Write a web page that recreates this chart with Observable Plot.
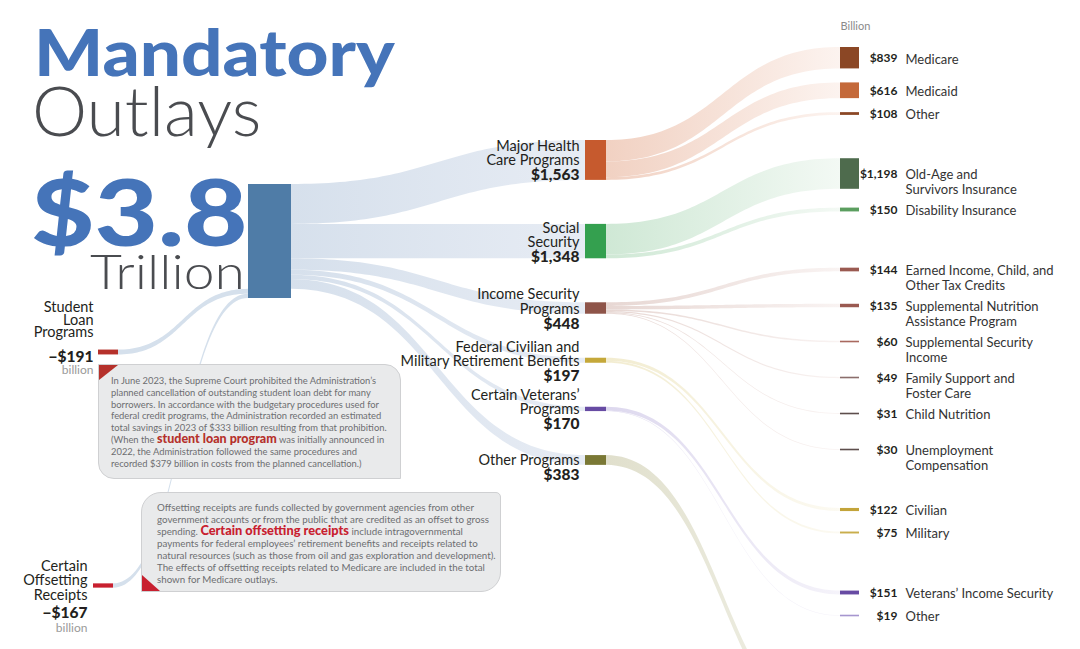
<!DOCTYPE html>
<html><head><meta charset="utf-8">
<script src="https://cdn.jsdelivr.net/npm/d3@7"></script>
<script src="https://cdn.jsdelivr.net/npm/@observablehq/plot@0.6"></script>
<style>
body{margin:0;background:#fff;font-family:Lato,"Open Sans",sans-serif;}
#wrap{position:relative;width:1080px;height:649px;overflow:hidden;background:#fff;}
#chart{position:absolute;left:0;top:0;}
.t{position:absolute;white-space:nowrap;line-height:1;font-family:Lato,sans-serif;transform-origin:0 50%;}
.note{position:absolute;box-sizing:border-box;background:#e9eaeb;border:1px solid #cfd0d2;color:#6d6e71;font-size:9.4px;line-height:11.8px;white-space:nowrap;font-family:Lato,sans-serif;}
.note b{font-weight:900;line-height:10px;}
.tri{position:absolute;}
</style></head><body>
<div id="wrap">
<div id="chart"></div>
<div class="t" style="left:34px;top:19px;font-size:65px;font-weight:900;color:#4574b9;transform:scaleX(1.12);">Mandatory</div>
<div class="t" style="left:32px;top:76px;font-size:68px;font-weight:300;color:#4a4c50;transform:scaleX(1.025);">Outlays</div>
<div class="t" style="left:31px;top:165px;font-size:92px;font-weight:900;color:#4574b9;transform:scaleX(1.19);">$3.8</div>
<div class="t" style="left:90px;top:247px;font-size:48px;font-weight:300;color:#4a4c50;transform:scaleX(1.15);">Trillion</div>
<div class="note" style="left:98px;top:364px;width:303px;height:115px;border-radius:0 16px 0 16px;padding:10px 0 0 12px;">
In June 2023, the Supreme Court prohibited the Administration’s<br>
planned cancellation of outstanding student loan debt for many<br>
borrowers. In accordance with the budgetary procedures used for<br>
federal credit programs, the Administration recorded an estimated<br>
total savings in 2023 of $333 billion resulting from that prohibition.<br>
(When the <b style="color:#b5312b;font-size:12.5px;">student loan program</b> was initially announced in<br>
2022, the Administration followed the same procedures and<br>
recorded $379 billion in costs from the planned cancellation.)
<div class="tri" style="left:0;top:0;width:19px;height:15px;background:#b5312b;clip-path:polygon(0 0,100% 0,0 100%);"></div>
</div>
<div class="note" style="left:141px;top:492px;width:360px;height:100px;border-radius:20px 5px 20px 0;padding:8px 0 0 15px;font-size:9.75px;line-height:12px;">
Offsetting receipts are funds collected by government agencies from other<br>
government accounts or from the public that are credited as an offset to gross<br>
spending. <b style="color:#c8202f;font-size:12.8px;">Certain offsetting receipts</b> include intragovernmental<br>
payments for federal employees’ retirement benefits and receipts related to<br>
natural resources (such as those from oil and gas exploration and development).<br>
The effects of offsetting receipts related to Medicare are included in the total<br>
shown for Medicare outlays.
<div class="tri" style="left:0;bottom:0;width:18px;height:16px;background:#c8202f;clip-path:polygon(0 0,0 100%,100% 100%);"></div>
</div>
</div>
<script>
// ---------- data (billions of dollars) ----------
const programs = ["Major Health\nCare Programs", "Social\nSecurity", "Income Security\nPrograms",
  "Federal Civilian and\nMilitary Retirement Benefits", "Certain Veterans’\nPrograms", "Other Programs"];
const programValues = [1563, 1348, 448, 197, 170, 383];

const offsetCategories = ["Student\nLoan\nPrograms", "Certain\nOffsetting\nReceipts"];
const offsetValues = [-191, -167];

const components = ["Medicare", "Medicaid", "Other",
  "Old-Age and\nSurvivors Insurance", "Disability Insurance",
  "Earned Income, Child, and\nOther Tax Credits", "Supplemental Nutrition\nAssistance Program",
  "Supplemental Security\nIncome", "Family Support and\nFoster Care", "Child Nutrition",
  "Unemployment\nCompensation",
  "Civilian", "Military",
  "Veterans’ Income Security", "Other"];
const componentValues = [839, 616, 108, 1198, 150, 144, 135, 60, 49, 31, 30, 122, 75, 151, 19];
const componentProgram = [0, 0, 0, 1, 1, 2, 2, 2, 2, 2, 2, 3, 3, 4, 4];

// ---------- styles ----------
const programColors = ["#c65a2e", "#34a04f", "#8e5449", "#c5a83a", "#674ba3", "#7a7835"];
const componentColors = ["#8b4725", "#c4693a", "#8b4725", "#4e6b4d", "#5b9e5f", "#9a5a51", "#9a5a51",
  "#a9695f", "#8b6e6c", "#5d4e4c", "#5d4e4c", "#c3a43a", "#c9ae4c", "#674ba3", "#a696cf"];
const linkGradients = [["#f1d1c2", "#fcf3ef"], ["#cfe8d5", "#f3f9f4"], ["#e7d7d3", "#f9f3f2"],
  ["#f2ecd0", "#fcfaf2"], ["#ddd8ee", "#f5f3fa"], ["#e0dfcc", "#f3f3ea"]];
const offsetColors = ["#b5312b", "#c8202f"];

// ---------- layout ----------
const W = 1080, H = 649;
const K = 0.02552;                 // px per billion
const SRC = {x0: 248, x1: 291, top: 184};
const MID = {x0: 585, x1: 606, top: 140, gap: 44};
const RIGHT = {x0: 840, x1: 859, top: 47, lineStep: 13, rowPad: 10, groupStep: 60, barPad: 14};
const LEFT = [{x0: 98, x1: 118, below: 54}, {x0: 93, x1: 113, below: 287.5}];

const total = d3.sum(programValues) + d3.sum(offsetValues, v => -v);
const src = {x0: SRC.x0, x1: SRC.x1, y0: SRC.top, y1: SRC.top + total * K};

let yy = MID.top;
const mid = programs.map((name, i) => {
  const h = programValues[i] * K;
  const n = {name, value: programValues[i], x0: MID.x0, x1: MID.x1, y0: yy, y1: yy + h, c: yy + h / 2, color: programColors[i]};
  yy += h + MID.gap;
  return n;
});

const lines = s => s.split("\n").length;
let prev = null;
const right = components.map((name, i) => {
  const h = componentValues[i] * K;
  let c;
  if (!prev) c = RIGHT.top + h / 2;
  else {
    const newGroup = componentProgram[i] !== prev.p;
    const labelStep = newGroup ? RIGHT.groupStep : RIGHT.lineStep * Math.max(lines(prev.name), lines(name)) + RIGHT.rowPad;
    c = prev.c + Math.max(labelStep, (prev.h + h) / 2 + RIGHT.barPad);
  }
  const bh = Math.max(h, 1.6);
  const n = {name, value: componentValues[i], p: componentProgram[i], h, c, x0: RIGHT.x0, x1: RIGHT.x1,
    y0: c - h / 2, y1: c + h / 2, b0: c - bh / 2, b1: c + bh / 2, color: componentColors[i]};
  prev = n;
  return n;
});
// "Other Programs" continues below the visible area
const continuation = {p: 5, value: programValues[5], c: H + 90};

// source stacking
let sy = src.y0;
const srcSlots = programValues.map(v => { const s = [sy, sy + v * K]; sy += v * K; return s; });
const leftNodes = offsetCategories.map((name, i) => {
  const h = -offsetValues[i] * K;
  const slot = [sy, sy + h]; sy += h;
  const c = src.y1 + LEFT[i].below;
  return {name, value: offsetValues[i], x0: LEFT[i].x0, x1: LEFT[i].x1, y0: c - h / 2, y1: c + h / 2, c, slot, color: offsetColors[i]};
});

function band(id, x0, x1, a0, a1, b0, b1, n = 64) {
  const out = [];
  for (let k = 0; k <= n; k++) {
    const t = k / n;
    const fx = 1.5 * t - 1.5 * t * t + t * t * t;
    const fy = 3 * t * t - 2 * t * t * t;
    out.push({id, x: x0 + (x1 - x0) * fx, y1: a0 + (a1 - a0) * fy, y2: b0 + (b1 - b0) * fy});
  }
  return out;
}

const srcBands = mid.flatMap((m, i) => band("s" + i, src.x1, m.x0, srcSlots[i][0], m.y0, srcSlots[i][1], m.y1));
const leftBands = leftNodes.flatMap((l, i) => band("l" + i, l.x1, src.x0, l.y0, l.slot[0], l.y1, l.slot[1]));
const midOut = mid.map(m => m.y0);
const rightBands = [...right, continuation].map((r, j) => {
  const h = r.value * K;
  const s0 = midOut[r.p]; midOut[r.p] += h;
  return {p: r.p, rows: band("r" + j, MID.x1, RIGHT.x0, s0, r.c - h / 2, s0 + h, r.c + h / 2)};
});

const fmt = v => (v < 0 ? "−$" : "$") + d3.format(",")(Math.abs(v));
const ink = "#231f20";

const marks = [
  Plot.areaY(srcBands, {x: "x", y1: "y1", y2: "y2", z: "id", fill: "url(#gSrc)", curve: "linear"}),
  Plot.areaY(leftBands, {x: "x", y1: "y1", y2: "y2", z: "id", fill: "#d5e0ec", curve: "linear"}),
  ...d3.range(programs.length).map(p =>
    Plot.areaY(rightBands.filter(b => b.p === p).flatMap(b => b.rows), {x: "x", y1: "y1", y2: "y2", z: "id", fill: `url(#g${p})`, curve: "linear"})),
  Plot.rect([src], {x1: "x0", x2: "x1", y1: "y0", y2: "y1", fill: "#4f7ca7"}),
  Plot.rect(mid, {x1: "x0", x2: "x1", y1: "y0", y2: "y1", fill: "color"}),
  Plot.rect(right, {x1: "x0", x2: "x1", y1: "b0", y2: "b1", fill: "color"}),
  Plot.rect(leftNodes, {x1: "x0", x2: "x1", y1: "y0", y2: "y1", fill: "color"}),
  // middle labels
  Plot.text(mid, {x: d => d.x0 - 6, y: "c", text: "name", textAnchor: "end", lineAnchor: "bottom", dy: 5, fontSize: 14.5, lineHeight: 0.97, fill: ink}),
  Plot.text(mid, {x: d => d.x0 - 6, y: "c", text: d => fmt(d.value), textAnchor: "end", lineAnchor: "bottom", dy: 20, fontSize: 15.5, fontWeight: 900, fill: ink}),
  // right labels
  Plot.text(right, {x: d => d.x1 + 38, y: "c", text: d => fmt(d.value), textAnchor: "end", lineAnchor: "top", dy: -4.5, fontSize: 12, fontWeight: 700, fill: ink}),
  Plot.text(right, {x: d => d.x1 + 46, y: "c", text: "name", textAnchor: "start", lineAnchor: "top", dy: -4.5, fontSize: 13, lineHeight: 1.08, fill: "#333"}),
  Plot.text(["Billion"], {x: RIGHT.x0, y: RIGHT.top, text: d => d, textAnchor: "start", dy: -21, fontSize: 11, fill: "#8a8a8a"}),
  // left labels
  Plot.text(leftNodes.slice(0, 1), {x: d => d.x0 - 5, y: "c", text: "name", textAnchor: "end", lineAnchor: "bottom", dy: -15, fontSize: 14.5, lineHeight: 0.88, fill: ink}),
  Plot.text(leftNodes.slice(1), {x: d => d.x0 - 6, y: "c", text: "name", textAnchor: "end", lineAnchor: "middle", dy: -5.5, fontSize: 14.5, lineHeight: 1.0, fill: ink}),
  Plot.text(leftNodes.slice(0, 1), {x: d => d.x0 - 5, y: "c", text: d => fmt(d.value), textAnchor: "end", dy: 4.5, fontSize: 15.5, fontWeight: 900, fill: ink}),
  Plot.text(leftNodes.slice(1), {x: d => d.x0 - 6, y: "c", text: d => fmt(d.value), textAnchor: "end", dy: 27, fontSize: 15.5, fontWeight: 900, fill: ink}),
  Plot.text(leftNodes.slice(0, 1), {x: d => d.x0 - 5, y: "c", text: () => "billion", textAnchor: "end", dy: 18, fontSize: 12, fill: "#9a9a9a"}),
  Plot.text(leftNodes.slice(1), {x: d => d.x0 - 6, y: "c", text: () => "billion", textAnchor: "end", dy: 42, fontSize: 12, fill: "#9a9a9a"})
];

const svg = Plot.plot({
  width: W, height: H, margin: 0,
  x: {domain: [0, W], range: [0, W], axis: null},
  y: {domain: [0, H], range: [0, H], axis: null},
  color: {type: "identity"},
  style: {fontFamily: "Lato, 'Open Sans', sans-serif", background: "transparent"},
  marks
});

const xs = svg.scale("x");
const defs = d3.select(svg).insert("defs", ":first-child");
function grad(id, x1, x2, c1, c2) {
  const g = defs.append("linearGradient").attr("id", id).attr("gradientUnits", "userSpaceOnUse")
    .attr("x1", xs.apply(x1)).attr("x2", xs.apply(x2)).attr("y1", 0).attr("y2", 0);
  g.append("stop").attr("offset", 0).attr("stop-color", c1);
  g.append("stop").attr("offset", 1).attr("stop-color", c2);
}
grad("gSrc", SRC.x1, MID.x0, "#d6e0ec", "#e7ecf4");
linkGradients.forEach((c, p) => grad("g" + p, MID.x1, RIGHT.x0, c[0], c[1]));

document.getElementById("chart").appendChild(svg);
</script>
</body></html>
